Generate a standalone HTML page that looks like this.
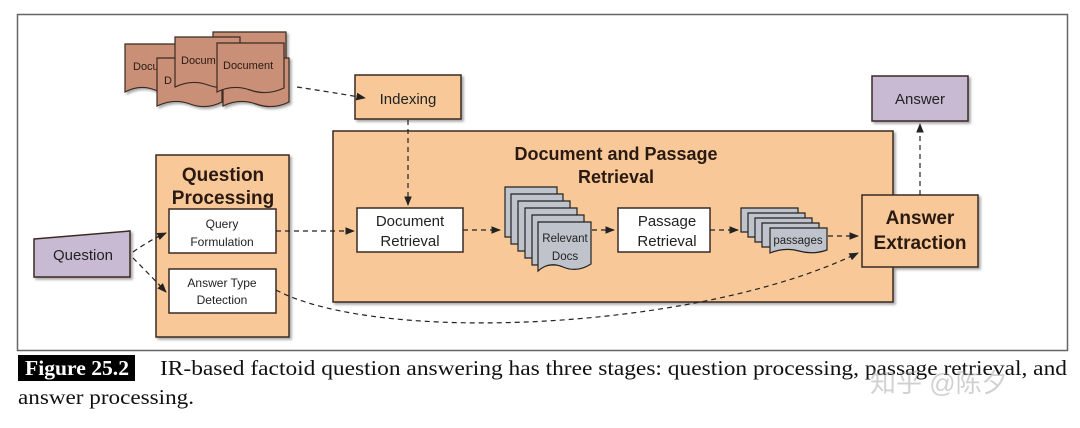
<!DOCTYPE html>
<html><head><meta charset="utf-8"><style>
html,body{margin:0;padding:0;background:#fff;}
svg{display:block;}
</style></head><body>
<svg width="1080" height="428" viewBox="0 0 1080 428" xmlns="http://www.w3.org/2000/svg" font-family="Liberation Sans, Arial, sans-serif">
<defs>
<marker id="ah" viewBox="0 0 10 10" refX="9" refY="5" markerWidth="8" markerHeight="8" orient="auto"><path d="M0,1 L10,5 L0,9 z" fill="#222"/></marker>
<filter id="sh" x="-10%" y="-10%" width="130%" height="130%"><feDropShadow dx="2" dy="2" stdDeviation="1.2" flood-color="#000" flood-opacity="0.35"/></filter>
</defs>
<rect x="17.5" y="14.5" width="1050" height="336" fill="#fff" stroke="#666" stroke-width="1.5"/>

<!-- document stack -->
<g fill="#c98f77" stroke="#3a2a22" stroke-width="1.2" font-size="11" filter="url(#sh)">
<path d="M213,32 h73 v46 q-18,8 -36,2 t-37,2 z"/>
<path d="M125,44 h60 v44 q-15,8 -30,2 t-30,2 z"/>
<text x="133" y="70" fill="#2a1a12" stroke="none">Docu</text>
<path d="M157,58 h65 v44 q-16,8 -32,2 t-33,2 z"/>
<text x="164" y="84" fill="#2a1a12" stroke="none">D</text>
<path d="M175,37 h65 v46 q-16,8 -32,2 t-33,2 z"/>
<text x="181" y="64" fill="#2a1a12" stroke="none">Docum</text>
<path d="M223,58 h66 v44 q-16,8 -33,2 t-33,2 z"/>
<path d="M217,43 h67 v45 q-17,8 -34,2 t-33,2 z"/>
<text x="223" y="69" fill="#2a1a12" stroke="none">Document</text>
</g>

<!-- boxes -->
<g stroke="#3a2a22" stroke-width="1.5" filter="url(#sh)">
<rect x="355" y="75" width="106" height="44" fill="#f8c898"/>
<rect x="333" y="131" width="560" height="171" fill="#f8c898"/>
<rect x="156" y="155" width="133" height="182" fill="#f8c898"/>
<rect x="862" y="195" width="116" height="72" fill="#f8c898"/>
<rect x="872" y="76" width="96" height="45" fill="#c9bad4"/>
<path d="M34,239 L130,231 L130,277 L34,277 z" fill="#c9bad4"/>
<rect x="169" y="209" width="107" height="44" fill="#fff"/>
<rect x="169" y="269" width="107" height="44" fill="#fff"/>
<rect x="357" y="208" width="106" height="44" fill="#fff"/>
<rect x="618" y="208" width="92" height="44" fill="#fff"/>
</g>

<!-- relevant docs stack -->
<g fill="#bfc3cc" stroke="#222" stroke-width="1.2">
<path d="M505,187 h52 v50 h-52 z"/>
<path d="M511,194 h52 v50 h-52 z"/>
<path d="M518,201 h52 v50 h-52 z"/>
<path d="M525,208 h52 v50 h-52 z"/>
<path d="M532,215 h52 v50 h-52 z"/>
<path d="M538,222 h53 v42 q-14,9 -28,3 t-25,4 z"/>
</g>
<text x="565" y="242" font-size="11.5" text-anchor="middle" fill="#222">Relevant</text>
<text x="565" y="260" font-size="11.5" text-anchor="middle" fill="#222">Docs</text>

<!-- passages stack -->
<g fill="#bfc3cc" stroke="#222" stroke-width="1.2">
<path d="M741,208 h57 v24 h-57 z"/>
<path d="M748,213 h57 v24 h-57 z"/>
<path d="M755,218 h57 v24 h-57 z"/>
<path d="M762,223 h57 v24 h-57 z"/>
<path d="M770,228 h57 v22 q-14,5 -28,1 t-29,2 z"/>
</g>
<text x="798" y="244" font-size="11.5" text-anchor="middle" fill="#222">passages</text>

<!-- text -->
<g fill="#222" text-anchor="middle">
<text x="408" y="104" font-size="15">Indexing</text>
<text x="920" y="104" font-size="15">Answer</text>
<text x="83" y="260" font-size="15">Question</text>
<text x="222" y="228" font-size="12">Query</text>
<text x="222" y="246" font-size="12">Formulation</text>
<text x="222" y="287" font-size="12">Answer Type</text>
<text x="222" y="304" font-size="12">Detection</text>
<text x="410" y="226" font-size="15">Document</text>
<text x="410" y="246" font-size="15">Retrieval</text>
<text x="667" y="226" font-size="15">Passage</text>
<text x="667" y="246" font-size="15">Retrieval</text>
<g font-weight="bold" fill="#2a1a12">
<text x="223" y="181" font-size="19">Question</text>
<text x="223" y="204" font-size="19">Processing</text>
<text x="616" y="160" font-size="18">Document and Passage</text>
<text x="616" y="183" font-size="18">Retrieval</text>
<text x="920" y="224" font-size="19">Answer</text>
<text x="920" y="249" font-size="19">Extraction</text>
</g>
</g>

<!-- connectors -->
<g fill="none" stroke="#222" stroke-width="1.2" stroke-dasharray="5,4" marker-end="url(#ah)">
<path d="M297,87 Q330,92 365,98"/>
<path d="M408,120 V205"/>
<path d="M133,252 Q150,240 166,233"/>
<path d="M133,258 Q150,275 166,292"/>
<path d="M276,231 H354"/>
<path d="M463,230 H500"/>
<path d="M592,230 H614"/>
<path d="M710,230 H738"/>
<path d="M828,236 H858"/>
<path d="M276,290 C380,345 700,330 858,253"/>
<path d="M920,195 V124"/>
</g>

<!-- caption -->
<rect x="18" y="355" width="117" height="26" fill="#000"/>
<text x="25" y="375" font-family="Liberation Serif, serif" font-size="21" font-weight="bold" fill="#fff" textLength="104" lengthAdjust="spacingAndGlyphs">Figure 25.2</text>
<text x="160" y="375" font-family="Liberation Serif, serif" font-size="21" fill="#111" textLength="907" lengthAdjust="spacingAndGlyphs">IR-based factoid question answering has three stages: question processing, passage retrieval, and</text>
<text x="18" y="404" font-family="Liberation Serif, serif" font-size="21" fill="#111" textLength="176" lengthAdjust="spacingAndGlyphs">answer processing.</text>
<text x="870" y="392" font-family="Liberation Sans, Noto Sans CJK SC, sans-serif" font-size="26" fill="#999" fill-opacity="0.45">知乎 @陈夕</text>
</svg>
</body></html>
